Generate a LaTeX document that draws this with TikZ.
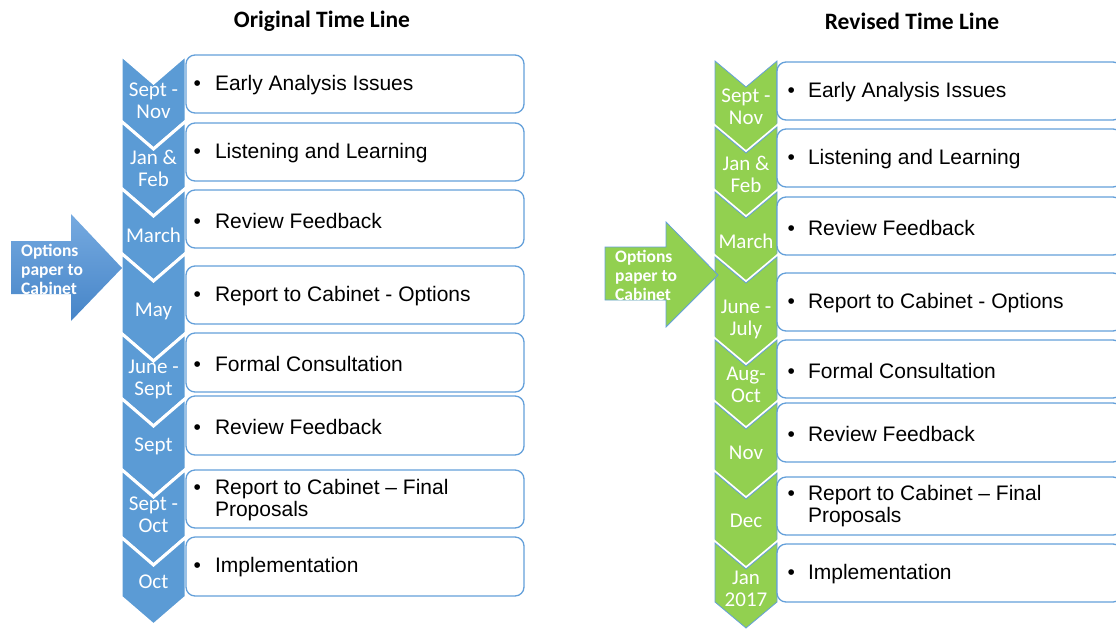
\documentclass[tikz,border=0pt]{standalone}
\usepackage{fontspec}
\setmainfont{Liberation Sans}
\newfontfamily\calibri{Carlito}
\definecolor{chevblue}{RGB}{91,155,213}
\definecolor{chevgreen}{RGB}{146,208,80}
\definecolor{lineblue}{RGB}{100,160,218}
\definecolor{arrowtop}{RGB}{118,170,224}
\definecolor{arrowbot}{RGB}{70,133,200}
\begin{document}
\begin{tikzpicture}[x=1pt,y=-1pt,
    bluechev/.style={fill=chevblue,draw=white,line width=3pt,line join=miter},
    greenchev/.style={fill=chevgreen,draw=lineblue,line width=0.8pt,preaction={draw=white,line width=4.5pt}},
    itembox/.style={draw=lineblue,line width=1.3pt,fill=white,rounded corners=9pt},
    item/.style={anchor=west,inner sep=0pt,align=left,font=\fontsize{21}{22}\selectfont},
    month/.style={inner sep=0pt,align=center,text=white,font=\calibri\fontsize{21}{22}\selectfont},
    heading/.style={inner sep=0pt,font=\calibri\bfseries\fontsize{23.5}{26}\selectfont},
    arrowtext/.style={anchor=west,inner sep=0pt,align=left,text=white,font=\calibri\bfseries\fontsize{17.5}{19}\selectfont}]
    \useasboundingbox (0,0) rectangle (1116,630);
    \clip (0,0) rectangle (1116,630);

    \node[heading] (ltitle) at (322,21.5) {Original Time Line};
    \node[heading] (rtitle) at (912,21.5) {Revised Time Line};

    \fill[bluechev] (121,55) -- (153.5,83) -- (186,55) -- (186,121) -- (153.5,149) -- (121,121) -- cycle;
    \fill[bluechev] (121,121) -- (153.5,149) -- (186,121) -- (186,188) -- (153.5,216) -- (121,188) -- cycle;
    \fill[bluechev] (121,188) -- (153.5,216) -- (186,188) -- (186,253) -- (153.5,281) -- (121,253) -- cycle;
    \fill[bluechev] (121,253) -- (153.5,281) -- (186,253) -- (186,333) -- (153.5,361) -- (121,333) -- cycle;
    \fill[bluechev] (121,333) -- (153.5,361) -- (186,333) -- (186,398) -- (153.5,426) -- (121,398) -- cycle;
    \fill[bluechev] (121,398) -- (153.5,426) -- (186,398) -- (186,469) -- (153.5,497) -- (121,469) -- cycle;
    \fill[bluechev] (121,469) -- (153.5,497) -- (186,469) -- (186,537) -- (153.5,565) -- (121,537) -- cycle;
    \fill[bluechev] (121,537) -- (153.5,565) -- (186,537) -- (186,597) -- (153.5,625) -- (121,597) -- cycle;

    \draw[itembox] (186,55) rectangle (524,113);
    \draw[itembox] (186,123) rectangle (524,181);
    \draw[itembox] (186,190) rectangle (524,248);
    \draw[itembox] (186,266) rectangle (524,324);
    \draw[itembox] (186,333) rectangle (524,392);
    \draw[itembox] (186,396) rectangle (524,455);
    \draw[itembox] (186,470) rectangle (524,528);
    \draw[itembox] (186,537) rectangle (524,596);

    \node[month] (lm1) at (153.5,101) {Sept -\\Nov};
    \node[month] (lm2) at (153.5,168) {Jan \&\\Feb};
    \node[month] (lm3) at (153.5,235) {March};
    \node[month] (lm4) at (153.5,311) {May};
    \node[month] (lm5) at (153.5,379) {June -\\Sept};
    \node[month] (lm6) at (153.5,446) {Sept};
    \node[month] (lm7) at (153.5,515) {Sept -\\Oct};
    \node[month] (lm8) at (153.5,582) {Oct};

    \node[item] (li1) at (193.5,85.5) {•\hspace{14pt}Early Analysis Issues};
    \node[item] (li2) at (193.5,153.5) {•\hspace{14pt}Listening and Learning};
    \node[item] (li3) at (193.5,220.5) {•\hspace{14pt}Review Feedback};
    \node[item] (li4) at (193.5,296.5) {•\hspace{14pt}Report to Cabinet - Options};
    \node[item] (li5) at (193.5,363.5) {•\hspace{14pt}Formal Consultation};
    \node[item] (li6) at (193.5,426.5) {•\hspace{14pt}Review Feedback};
    \node[item] (li7) at (193.5,500) {•\hspace{14pt}Report to Cabinet – Final\\\phantom{•\hspace{14pt}}Proposals};
    \node[item] (li8) at (193.5,567.5) {•\hspace{14pt}Implementation};

    \shade[top color=arrowtop,bottom color=arrowbot] (11,241) -- (71,241) -- (71,214) -- (122,268) -- (71,321) -- (71,294) -- (11,294) -- cycle;
    \node[arrowtext] (lopt) at (21,269) {Options\\paper to\\Cabinet};

    \fill[greenchev] (715,61) -- (746,87) -- (777,61) -- (777,127) -- (746,153) -- (715,127) -- cycle;
    \fill[greenchev] (715,127) -- (746,153) -- (777,127) -- (777,192) -- (746,218) -- (715,192) -- cycle;
    \fill[greenchev] (715,192) -- (746,218) -- (777,192) -- (777,257) -- (746,283) -- (715,257) -- cycle;
    \fill[greenchev] (715,257) -- (746,283) -- (777,257) -- (777,340) -- (746,366) -- (715,340) -- cycle;
    \fill[greenchev] (715,340) -- (746,366) -- (777,340) -- (777,403) -- (746,429) -- (715,403) -- cycle;
    \fill[greenchev] (715,403) -- (746,429) -- (777,403) -- (777,473) -- (746,499) -- (715,473) -- cycle;
    \fill[greenchev] (715,473) -- (746,499) -- (777,473) -- (777,543) -- (746,569) -- (715,543) -- cycle;
    \fill[greenchev] (715,543) -- (746,569) -- (777,543) -- (777,602) -- (746,628) -- (715,602) -- cycle;

    \draw[itembox] (777,62) rectangle (1122,120);
    \draw[itembox] (777,129) rectangle (1122,187);
    \draw[itembox] (777,197) rectangle (1122,255);
    \draw[itembox] (777,273) rectangle (1122,331);
    \draw[itembox] (777,340) rectangle (1122,398);
    \draw[itembox] (777,403) rectangle (1122,462);
    \draw[itembox] (777,477) rectangle (1122,535);
    \draw[itembox] (777,544) rectangle (1122,602);

    \node[month] (rm1) at (746,107) {Sept -\\Nov};
    \node[month] (rm2) at (746,174) {Jan \&\\Feb};
    \node[month] (rm3) at (746,241) {March};
    \node[month] (rm4) at (746,319) {June -\\July};
    \node[month] (rm5) at (746,385) {Aug-\\Oct};
    \node[month] (rm6) at (746,453) {Nov};
    \node[month] (rm7) at (746,521) {Dec};
    \node[month] (rm8) at (746,589) {Jan\\2017};

    \node[item] (ri1) at (787.5,92.5) {•\hspace{13pt}Early Analysis Issues};
    \node[item] (ri2) at (787.5,159.5) {•\hspace{13pt}Listening and Learning};
    \node[item] (ri3) at (787.5,227.5) {•\hspace{13pt}Review Feedback};
    \node[item] (ri4) at (787.5,303.5) {•\hspace{13pt}Report to Cabinet - Options};
    \node[item] (ri5) at (787.5,370.5) {•\hspace{13pt}Formal Consultation};
    \node[item] (ri6) at (787.5,433.5) {•\hspace{13pt}Review Feedback};
    \node[item] (ri7) at (787.5,506) {•\hspace{13pt}Report to Cabinet – Final\\\phantom{•\hspace{13pt}}Proposals};
    \node[item] (ri8) at (787.5,574.5) {•\hspace{13pt}Implementation};

    \filldraw[fill=chevgreen,draw=lineblue,line width=0.8pt] (605,247) -- (666,247) -- (666,222) -- (718,275) -- (666,327) -- (666,300) -- (605,300) -- cycle;
    \node[arrowtext] (ropt) at (615,275) {Options\\paper to\\Cabinet};
\end{tikzpicture}
\end{document}
